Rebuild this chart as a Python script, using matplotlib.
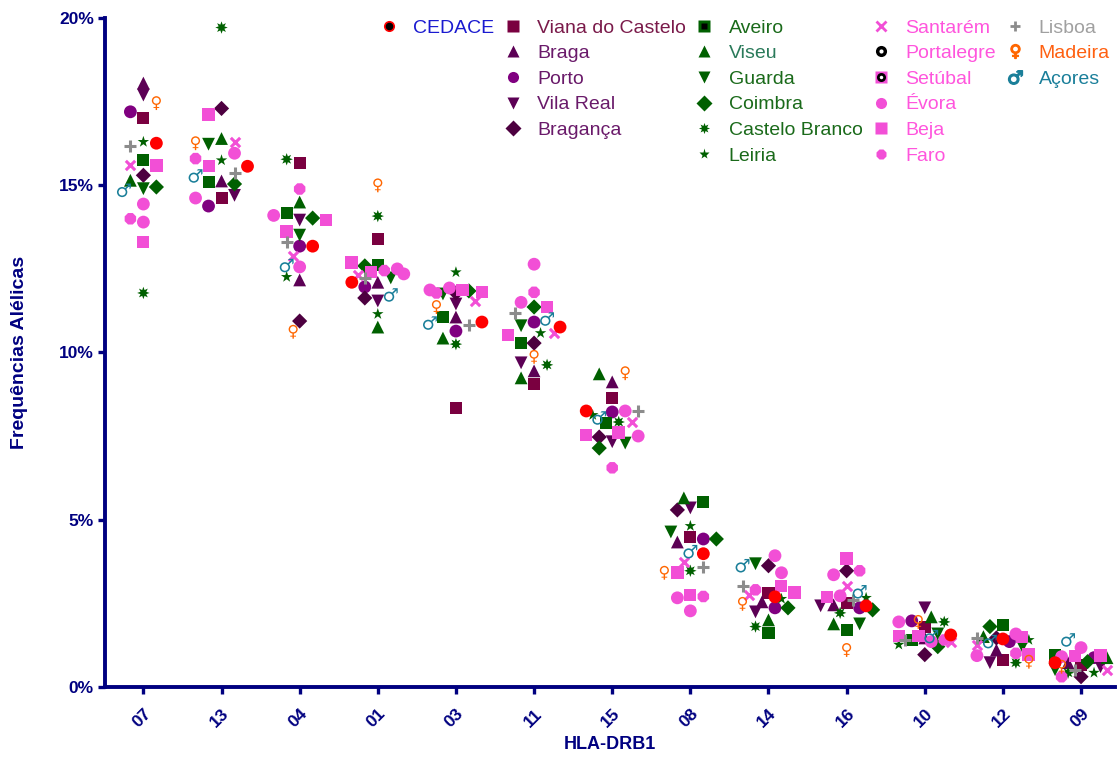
import matplotlib
matplotlib.use('Agg')
import matplotlib.pyplot as plt
from matplotlib.lines import Line2D
import numpy as np

plt.rcParams['font.family'] = ['Liberation Sans', 'DejaVu Sans']

alleles = ['07', '13', '04', '01', '03', '11', '15', '08', '14', '16', '10', '12', '09']
yticks = [0, 5, 10, 15, 20]
ytick_labels = ['0%', '5%', '10%', '15%', '20%']

cedace = [16.26, 15.57, 13.18, 12.10, 10.91, 10.76, 8.25, 3.98, 2.69, 2.42, 1.55, 1.43, 0.72]
viana = [17.00, 14.62, 15.67, 13.39, 8.34, 9.06, 8.64, 4.48, 2.81, 2.51, 1.80, 0.81, 0.66]
braga = [18.06, 15.13, 12.17, 12.10, 11.06, 9.45, 9.12, 4.33, 2.54, 2.45, 1.46, 1.10, 0.72]
porto = [17.20, 14.38, 13.18, 11.96, 10.64, 10.91, 8.22, 4.42, 2.36, 2.36, 1.97, 1.35, 0.87]
vila_real = [17.70, 14.70, 13.96, 11.54, 11.45, 9.69, 7.33, 5.35, 2.24, 2.42, 2.36, 0.72, 0.60]
braganca = [15.30, 17.30, 10.94, 11.63, 11.78, 10.28, 7.47, 5.29, 3.62, 3.47, 0.96, 1.46, 0.30]
aveiro = [15.75, 15.10, 14.17, 12.62, 11.06, 10.28, 7.90, 5.53, 1.61, 1.70, 1.40, 1.85, 0.96]
viseu = [15.15, 16.40, 14.50, 10.76, 10.43, 9.24, 9.36, 5.65, 2.00, 1.88, 2.09, 1.50, 0.87]
guarda = [14.90, 16.23, 13.51, 12.23, 11.75, 10.80, 7.29, 4.63, 3.68, 1.88, 1.58, 1.20, 0.51]
coimbra = [14.95, 15.04, 14.02, 12.59, 11.84, 11.36, 7.14, 4.42, 2.36, 2.30, 1.20, 1.80, 0.75]
castelo_branco = [11.78, 19.72, 15.78, 14.08, 10.25, 9.63, 7.92, 3.47, 1.80, 2.21, 1.94, 0.72, 0.42]
leiria = [16.30, 15.75, 12.26, 11.15, 12.40, 10.58, 8.13, 4.81, 2.63, 2.66, 1.26, 1.40, 0.42]
santarem = [15.60, 16.30, 12.90, 12.32, 11.54, 10.58, 7.92, 3.74, 2.75, 3.02, 1.35, 1.26, 0.50]
portalegre = [14.44, 15.96, 14.10, 12.50, 11.87, 12.64, 8.25, 2.27, 3.92, 3.35, 1.94, 1.58, 1.17]
setubal = [13.30, 15.57, 13.95, 12.40, 11.80, 10.52, 7.53, 2.75, 3.00, 2.69, 1.52, 1.50, 0.93]
evora = [13.90, 14.62, 12.56, 12.35, 11.93, 11.50, 7.50, 2.66, 3.41, 2.72, 1.35, 0.93, 0.90]
beja = [15.60, 17.13, 13.63, 12.68, 11.87, 11.36, 7.60, 3.41, 2.81, 3.83, 1.52, 0.96, 0.93]
faro = [14.00, 15.80, 14.89, 12.45, 11.78, 11.80, 6.55, 2.70, 2.90, 3.47, 1.40, 1.00, 0.30]
lisboa = [16.17, 15.37, 13.30, 12.23, 10.82, 11.18, 8.25, 3.59, 3.00, 2.60, 1.40, 1.46, 0.51]
madeira = [17.46, 16.26, 10.62, 15.00, 11.36, 9.87, 9.38, 3.41, 2.48, 1.10, 1.94, 0.75, 0.60]
acores = [14.85, 15.28, 12.60, 11.72, 10.88, 11.00, 8.04, 4.04, 3.62, 2.84, 1.50, 1.35, 1.40]

navy = '#000080'
maroon = '#7a0040'
plum = '#5c0055'
purple = '#800080'
green = '#006000'
pink = '#f24fd6'

# name, values, marker, colour, size, legend text colour
series = [
    ('Viana do Castelo', viana, 's', maroon, 75, '#7a1a4a'),
    ('Braga', braga, '^', plum, 85, '#6a1a6a'),
    ('Porto', porto, 'o', purple, 85, '#6a1a6a'),
    ('Vila Real', vila_real, 'v', plum, 85, '#6a1a6a'),
    ('Bragança', braganca, 'D', '#4d0040', 60, '#6a1a6a'),
    ('Aveiro', aveiro, 's', green, 75, '#1a6a1a'),
    ('Viseu', viseu, '^', green, 85, '#2a7a5a'),
    ('Guarda', guarda, 'v', green, 85, '#1a6a1a'),
    ('Coimbra', coimbra, 'D', green, 60, '#1a6a1a'),
    ('Castelo Branco', castelo_branco, (8, 1, 0), green, 80, '#1a6a1a'),
    ('Leiria', leiria, '*', green, 75, '#1a6a1a'),
    ('Santarém', santarem, 'x', pink, 45, '#ff55dd'),
    ('Portalegre', portalegre, 'o', pink, 85, '#ff55dd'),
    ('Setúbal', setubal, 's', pink, 75, '#ff55dd'),
    ('Évora', evora, 'o', pink, 85, '#ff55dd'),
    ('Beja', beja, 's', pink, 85, '#ff55dd'),
    ('Faro', faro, '8', pink, 80, '#ff55dd'),
    ('Lisboa', lisboa, '+', '#8c8c8c', 80, '#a0a0a0'),
    ('Madeira', madeira, '$♀$', '#ff6600', 100, '#ff6010'),
    ('Açores', acores, '$♂$', '#1a7f99', 100, '#1a7f9a'),
    ('CEDACE', cedace, 'o', '#ff0000', 85, '#1a1ad0'),
]

# swarm style spreading inside each allele, done in pixel units
px_x = 78.2
px_y = 33.45
step = 6.5
min_d = 11.0
xpos = {s[0]: np.zeros(len(alleles)) for s in series}
for i in range(len(alleles)):
    placed = []
    for s in series:
        v = s[1][i]
        best = None
        best_d = -1
        for k in [0, -1, 1, -2, 2, -3, 3, -4, 4]:
            cx = k * step
            if placed:
                d = min(np.hypot(cx - px, (v - py) * px_y) for px, py in placed)
            else:
                d = 99
            if d >= min_d:
                best = cx
                break
            if d > best_d:
                best_d = d
                best = cx
        placed.append((best, v))
        xpos[s[0]][i] = i + best / px_x

fig = plt.figure(figsize=(11.18, 7.58), dpi=100)
ax = fig.add_axes([0.094, 0.094, 0.903, 0.882])

for name, vals, mk, col, size, tcol in series:
    if mk in ['x', '+']:
        ax.scatter(xpos[name], vals, marker=mk, s=size, c=col, linewidths=2.2, zorder=3)
    else:
        ax.scatter(xpos[name], vals, marker=mk, s=size, c=col, edgecolors='none', zorder=3)

ax.set_xlim(-0.49, 12.43)
ax.set_ylim(0, 20)
ax.set_xticks(range(len(alleles)))
ax.set_xticklabels(alleles, rotation=45, ha='right', rotation_mode='anchor')
ax.set_yticks(yticks)
ax.set_yticklabels(ytick_labels)
for lab in ax.get_xticklabels() + ax.get_yticklabels():
    lab.set_fontweight('bold')
    lab.set_fontsize(12.5)
    lab.set_color(navy)
ax.tick_params(axis='both', colors=navy, width=2.4, length=5, direction='out')
ax.tick_params(axis='x', pad=9)
ax.tick_params(axis='y', pad=3)
ax.spines['top'].set_visible(False)
ax.spines['right'].set_visible(False)
ax.spines['left'].set_color(navy)
ax.spines['bottom'].set_color(navy)
ax.spines['left'].set_linewidth(2.8)
ax.spines['bottom'].set_linewidth(2.8)
ax.set_ylabel('Frequências Alélicas', fontsize=14, fontweight='bold', color=navy, labelpad=22)
ax.set_xlabel('HLA-DRB1', fontsize=13, fontweight='bold', color=navy, labelpad=4)

handles = {}
for name, vals, mk, col, size, tcol in series:
    if mk in ['x', '+']:
        h = Line2D([], [], linestyle='none', marker=mk, color=col, markersize=7, markeredgewidth=2)
    elif isinstance(mk, str) and mk.startswith('$'):
        h = Line2D([], [], linestyle='none', marker=mk, color=col, markersize=10)
    else:
        h = Line2D([], [], linestyle='none', marker=mk, color=col, markersize=8, markeredgecolor='none')
    handles[name] = (h, tcol)

# the legend symbols of a few series carry a dark centre in the original
def dot(mk, col, ms):
    return Line2D([], [], linestyle='none', marker=mk, color=col, markersize=ms, markeredgecolor='none')

handles['CEDACE'] = ((dot('o', '#ff0000', 8), dot('o', 'black', 5.5)), handles['CEDACE'][1])
handles['Aveiro'] = ((dot('s', green, 8), dot('s', 'black', 4)), handles['Aveiro'][1])
handles['Portalegre'] = ((dot('o', 'black', 8), dot('o', 'white', 3)), handles['Portalegre'][1])
handles['Setúbal'] = ((dot('s', pink, 8), dot('o', 'black', 6.5), dot('o', 'white', 2.5)), handles['Setúbal'][1])
blank = (Line2D([], [], linestyle='none'), 'white')

order = ['CEDACE', None, None, None, None, None,
         'Viana do Castelo', 'Braga', 'Porto', 'Vila Real', 'Bragança', None,
         'Aveiro', 'Viseu', 'Guarda', 'Coimbra', 'Castelo Branco', 'Leiria',
         'Santarém', 'Portalegre', 'Setúbal', 'Évora', 'Beja', 'Faro',
         'Lisboa', 'Madeira', 'Açores', None, None, None]
leg_h = []
leg_l = []
leg_c = []
for name in order:
    if name is None:
        leg_h.append(blank[0])
        leg_l.append('')
        leg_c.append(blank[1])
    else:
        leg_h.append(handles[name][0])
        leg_l.append(name)
        leg_c.append(handles[name][1])

ax.legend(leg_h, leg_l, ncol=5, loc='upper left', bbox_to_anchor=(0.258, 1.019),
          frameon=False, fontsize=14, labelcolor=leg_c, handlelength=1.0,
          handletextpad=0.75, columnspacing=0.45, labelspacing=0.41, borderpad=0.2)

plt.savefig('out.png', dpi=100)
